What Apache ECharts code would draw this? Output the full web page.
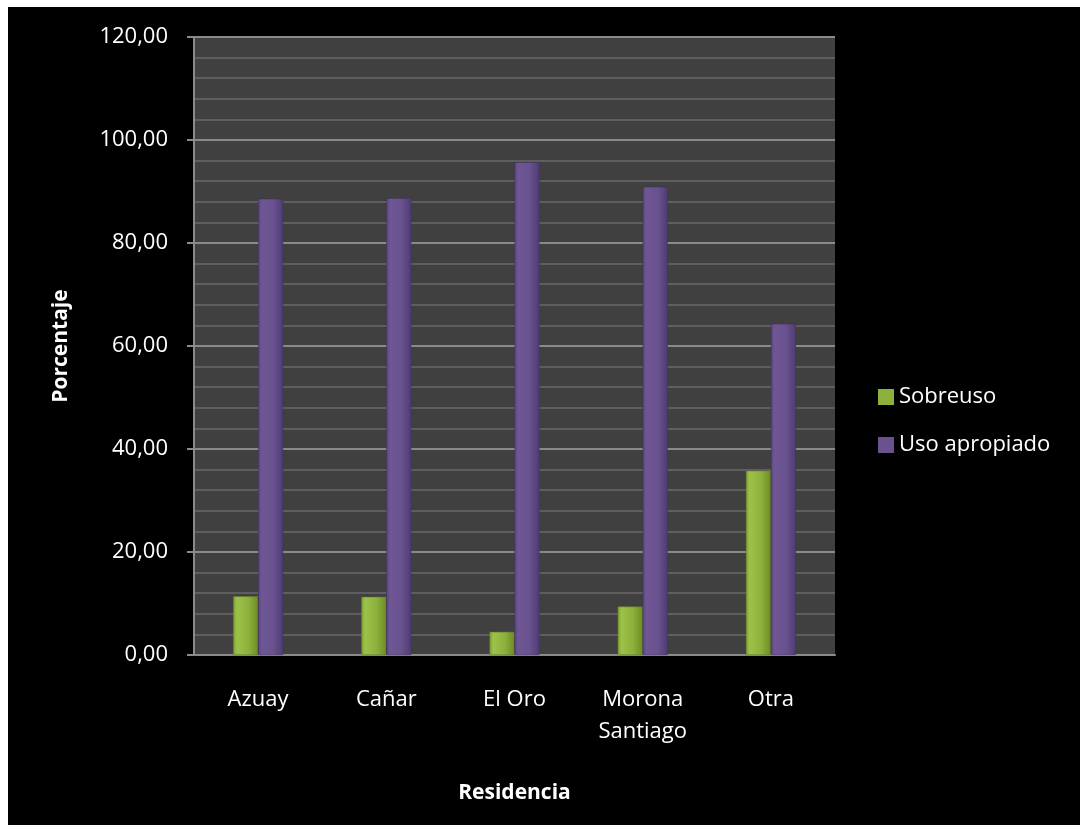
<!DOCTYPE html>
<html>
<head>
<meta charset="utf-8">
<script src="https://cdn.jsdelivr.net/npm/echarts@6/dist/echarts.min.js"></script>
<style>
html,body{margin:0;padding:0;background:#fff;width:1080px;height:825px;overflow:hidden;}
#c{position:absolute;left:8px;top:7px;width:1072px;height:818px;background:#000;}
</style>
</head>
<body>
<div id="c"></div>
<script>
const categories = ['Azuay', 'Cañar', 'El Oro', 'Morona\nSantiago', 'Otra'];
const sobreuso = [11.4, 11.3, 4.5, 9.4, 35.8];
const usoApropiado = [88.6, 88.7, 95.7, 90.9, 64.3];
const seriesNames = ['Sobreuso', 'Uso apropiado'];

const FONT = 'Open Sans';
const green = new echarts.graphic.LinearGradient(0, 0, 1, 0, [
  {offset: 0, color: '#7f9f30'}, {offset: 0.15, color: '#9cc24a'},
  {offset: 0.6, color: '#8db23c'}, {offset: 1, color: '#6d8c26'}]);
const purple = new echarts.graphic.LinearGradient(0, 0, 1, 0, [
  {offset: 0, color: '#5a4580'}, {offset: 0.15, color: '#6f5796'},
  {offset: 0.6, color: '#6a5290'}, {offset: 1, color: '#4f3c72'}]);

const chart = echarts.init(document.getElementById('c'));
chart.setOption({
  backgroundColor: '#000',
  animation: false,
  textStyle: {fontFamily: FONT},
  grid: {left: 186, right: 245, top: 30, bottom: 170, show: true,
         backgroundColor: '#404040', borderWidth: 0},
  legend: {
    orient: 'vertical', left: 865, top: 374, itemWidth: 16, itemHeight: 16,
    itemGap: 26, icon: 'rect', itemStyle: {borderWidth: 0},
    textStyle: {color: '#fff', fontSize: 22, fontFamily: FONT},
    data: [{name: seriesNames[0], itemStyle: {color: '#8db23c'}},
           {name: seriesNames[1], itemStyle: {color: '#6a5290'}}]
  },
  xAxis: {
    type: 'category', data: categories,
    name: 'Residencia', nameLocation: 'middle', nameGap: 128,
    nameTextStyle: {color: '#fff', fontSize: 21, fontWeight: 'bold', fontFamily: FONT},
    axisLine: {show: true, lineStyle: {color: '#8a8a8a', width: 2}},
    axisTick: {show: false},
    axisLabel: {color: '#fff', fontSize: 22, margin: 29, lineHeight: 32, fontFamily: FONT}
  },
  yAxis: {
    type: 'value', min: 0, max: 120, interval: 20,
    name: 'Porcentaje', nameLocation: 'middle', nameGap: 122,
    nameTextStyle: {color: '#fff', fontSize: 21, fontWeight: 'bold', fontFamily: FONT},
    axisLine: {show: true, lineStyle: {color: '#8a8a8a', width: 2}},
    axisTick: {show: true, length: 7, lineStyle: {color: '#8a8a8a', width: 2}},
    axisLabel: {color: '#fff', fontSize: 22, margin: 26, fontFamily: FONT,
      formatter: v => v.toFixed(2).replace('.', ',')},
    splitLine: {show: true, lineStyle: {color: '#8a8a8a', width: 2}},
    minorTick: {show: false, splitNumber: 5},
    minorSplitLine: {show: true, lineStyle: {color: '#5e5e5e', width: 2}}
  },
  series: [
    {name: seriesNames[0], type: 'bar', data: sobreuso, barWidth: 25, barGap: '0%',
     itemStyle: {color: green, borderColor: '#5f7a22', borderWidth: 0.5}},
    {name: seriesNames[1], type: 'bar', data: usoApropiado, barWidth: 25,
     itemStyle: {color: purple, borderColor: '#3f2f5c', borderWidth: 0.5}}
  ]
});
</script>
</body>
</html>
